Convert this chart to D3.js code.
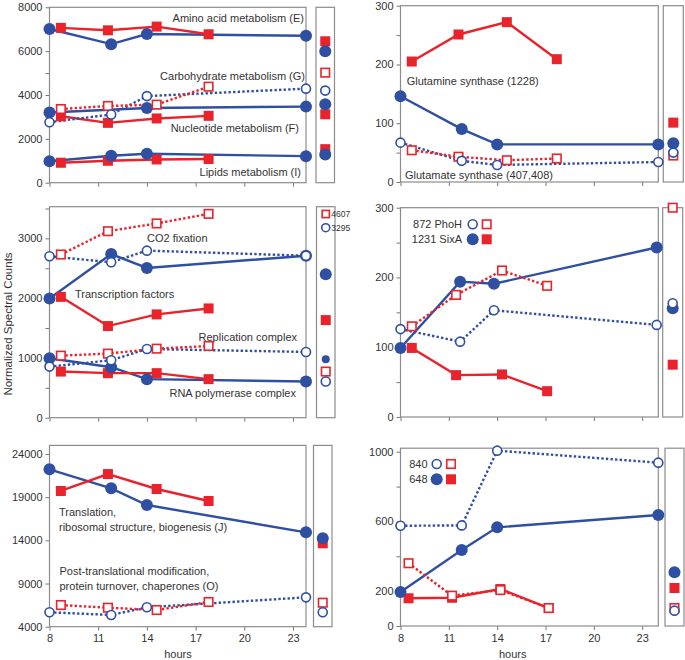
<!DOCTYPE html>
<html><head><meta charset="utf-8">
<script src="https://cdn.jsdelivr.net/npm/d3@7"></script>
<style>body{margin:0;background:#fff} text{font-family:"Liberation Sans",Arial,sans-serif}</style>
</head><body><svg id="c" width="685" height="660"></svg>
<script>
// ---------- DATA ----------
const hourTicks = [8, 11, 14, 17, 20, 23];
const leftBlueT = [8, 11.8, 14, 23.8];
const leftRedT = [8.7, 11.6, 14.6, 17.8];
const glutBlueT = [8, 11.8, 14, 24];
const glutRedT = [8.7, 11.6, 14.6, 17.7];
const phoBlueT = [8, 11.7, 13.8, 23.9];
const phoRedT = [8.7, 11.45, 14.3, 17.1];
const p840BlueT = [8, 11.8, 14, 24];
const p840RedT = [8.5, 11.2, 14.2, 17.2];

// top-left: metabolism
const aminoBlue = [7010, 6320, 6780, 6700];
const aminoRed = [7060, 6950, 7120, 6770];
const carbBlue = [2760, 3110, 3950, 4290];
const carbRed = [3360, 3500, 3560, 4380];
const nucBlue = [3200, null, 3410, 3470];
const nucRed = [3030, 2730, 2930, 3050];
const lipBlue = [980, 1230, 1320, 1210];
const lipRed = [910, 1000, 1060, 1080];
const tlSide = {redFilled: [6450, 3120, 1530], blueFilled: [6000, 3580, 1290], redOpen: [5020], blueOpen: [4200]};

// middle-left
const co2Red = [2730, 3120, 3250, 3410];
const co2Blue = [2700, 2600, 2795, 2710];
const tfBlue = [1995, 2738, 2506, 2710];
const tfRed = [2022, 1533, 1728, 1828];
const repRed = [1038, 1072, 1155, 1200];
const repBlue = [855, 961, 1150, 1100];
const rnapBlue = [995, 845, 645, 605];
const rnapRed = [772, 745, 745, 645];
const mlSide = {redFilled: [1633], blueFilled: [2400], blueSmall: [978], redOpen: [772], blueOpen: [605]};
const mlSideLegend = ["4607", "3295"];

// bottom-left
const transBlue = [22230, 20030, 18090, 14930];
const transRed = [19720, 21680, 19950, 18560];
const ptmRed = [6510, 6200, 5930, 6860];
const ptmBlue = [5670, 5360, 6250, 7400];
const blSide = {redFilled: [13660], blueFilled: [14240], redOpen: [6780], blueOpen: [5670]};

// top-right
const glnRed = [205, 251, 272, 209];
const glnBlue = [146, 90, 64, 64];
const gltBlue = [67, 36, 29, 34];
const gltRed = [54, 43, 37, 40];
const trSide = {redFilled: [101], blueFilled: [66], redOpen: [45], blueOpen: [50]};

// middle-right
const phoHBlue = [126, 108, 153, 132];
const phoHRed = [130, 175, 210, 188];
const sixABlue = [99, 194, 191, 243];
const sixARed = [99, 60, 61, 37];
const mrSide = {redFilled: [75], blueFilled: [156], redOpen: [300], blueOpen: [163]};

// bottom-right
const g840Blue = [575, 577, 1006, 937];
const g840Red = [360, 174, 206, 103];
const g648Blue = [195, 436, 566, 637];
const g648Red = [159, 162, 212, 103];
const brSide = {redFilled: [218], blueFilled: [308], redOpen: [103], blueOpen: [88]};

// ---------- DRAWING ----------
const BLUE = "#2f4fa2", RED = "#e8232b", FRAME = "#8c8c8c", TXT = "#333";
const svg = d3.select("#c");

function S(t, v, color, style) { return {t, v, color, style}; }

function marker(g, cx, cy, color, kind, r) {
  const c = color === "blue" ? BLUE : RED;
  if (color === "blue") {
    const rr = r || (kind === "filled" ? 6 : 4.5);
    g.append("circle").attr("cx", cx).attr("cy", cy).attr("r", rr)
      .attr("fill", kind === "filled" ? c : "#fff")
      .attr("stroke", c).attr("stroke-width", kind === "filled" ? 0 : 1.6);
  } else {
    const s = r ? r * 2 : (kind === "filled" ? 10 : 8.5);
    g.append("rect").attr("x", cx - s / 2).attr("y", cy - s / 2).attr("width", s).attr("height", s)
      .attr("fill", kind === "filled" ? c : "#fff")
      .attr("stroke", c).attr("stroke-width", kind === "filled" ? 0 : 1.6);
  }
}

function drawPanel(p) {
  const x = d3.scaleLinear().domain(p.xDomain).range(p.xRange);
  const y = d3.scaleLinear().domain(p.yDomain).range(p.yRange);
  const g = svg.append("g");
  // y axis
  const ya = d3.axisLeft(y).tickValues(p.yTicks).tickSize(4).tickPadding(3)
    .tickFormat(d => p.yLabels.includes(d) ? String(d) : "");
  const yg = g.append("g").attr("transform", `translate(${p.xRange[0]},0)`).call(ya);
  // x axis
  const xa = d3.axisBottom(x).tickValues(hourTicks).tickSize(4).tickPadding(4)
    .tickFormat(d => p.xLabels ? String(d) : "");
  const xg = g.append("g").attr("transform", `translate(0,${p.yRange[0]})`).call(xa);
  [yg, xg].forEach(a => {
    a.select(".domain").remove();
    a.selectAll(".tick line").attr("stroke", "#777");
    a.selectAll(".tick text").attr("fill", TXT).style("font-size", "11px")
      .style("font-family", '"Liberation Sans",Arial,sans-serif');
  });
  // frame
  g.append("rect").attr("x", p.xRange[0]).attr("y", p.yRange[1])
    .attr("width", p.xRange[1] - p.xRange[0]).attr("height", p.yRange[0] - p.yRange[1])
    .attr("fill", "none").attr("stroke", FRAME).attr("stroke-width", 1.2);
  // side box
  const sb = p.side;
  g.append("rect").attr("x", sb.x0).attr("y", p.yRange[1])
    .attr("width", sb.x1 - sb.x0).attr("height", p.yRange[0] - p.yRange[1])
    .attr("fill", "none").attr("stroke", FRAME).attr("stroke-width", 1.2);
  // annotations
  p.labels.forEach(l => {
    g.append("text").attr("x", l.x).attr("y", l.y).attr("text-anchor", l.anchor || "start")
      .attr("fill", TXT).style("font-size", (l.size || 11) + "px").text(l.text);
  });
  // lines
  const line = d3.line().x(d => x(d.t)).y(d => y(d.v));
  const pts = s => s.t.map((t, i) => ({t, v: s.v[i]})).filter(d => d.v !== null);
  p.series.forEach(s => {
    g.append("path").attr("d", line(pts(s))).attr("fill", "none")
      .attr("stroke", s.color === "blue" ? BLUE : RED)
      .attr("stroke-width", 2.4)
      .attr("stroke-dasharray", s.style === "dotted" ? "2.4,2.2" : null);
  });
  // markers: filled first then open
  const order = [["solid", "red"], ["solid", "blue"], ["dotted", "red"], ["dotted", "blue"]];
  order.forEach(([st, col]) => {
    p.series.filter(s => s.style === st && s.color === col).forEach(s => {
      pts(s).forEach(d => marker(g, x(d.t), y(d.v), col, st === "solid" ? "filled" : "open"));
    });
  });
  // side markers
  const sx = (sb.x0 + sb.x1) / 2;
  const sv = p.sideVals;
  (sv.redFilled || []).forEach(v => marker(g, sx, y(v), "red", "filled"));
  (sv.blueFilled || []).forEach(v => marker(g, sx, y(v), "blue", "filled"));
  (sv.blueSmall || []).forEach(v => marker(g, sx, y(v), "blue", "filled", 4));
  (sv.redOpen || []).forEach(v => marker(g, sx, y(v), "red", "open"));
  (sv.blueOpen || []).forEach(v => marker(g, sx, y(v), "blue", "open"));
  if (p.extra) p.extra(g, x, y, sx);
  return {x, y};
}

const LX = [49.5, 306], RX = [400.5, 658.3];

// top-left
drawPanel({
  xDomain: [8, 23.8], xRange: LX, yDomain: [0, 8000], yRange: [182.7, 7.3],
  yTicks: d3.range(0, 8001, 1000), yLabels: [0, 2000, 4000, 6000, 8000], xLabels: false,
  side: {x0: 316, x1: 334.5}, sideVals: tlSide,
  series: [S(leftBlueT, aminoBlue, "blue", "solid"), S(leftRedT, aminoRed, "red", "solid"),
    S(leftBlueT, nucBlue, "blue", "solid"), S(leftRedT, nucRed, "red", "solid"),
    S(leftBlueT, lipBlue, "blue", "solid"), S(leftRedT, lipRed, "red", "solid"),
    S(leftBlueT, carbBlue, "blue", "dotted"), S(leftRedT, carbRed, "red", "dotted")],
  labels: [
    {text: "Amino acid metabolism (E)", x: 304, y: 22, anchor: "end"},
    {text: "Carbohydrate metabolism (G)", x: 305, y: 79.5, anchor: "end"},
    {text: "Nucleotide metabolism (F)", x: 299, y: 132, anchor: "end"},
    {text: "Lipids metabolism (I)", x: 301, y: 176, anchor: "end"}]
});

// middle-left
drawPanel({
  xDomain: [8, 23.8], xRange: LX, yDomain: [0, 3530], yRange: [417.7, 206.7],
  yTicks: d3.range(0, 3501, 500), yLabels: [0, 1000, 2000, 3000], xLabels: false,
  side: {x0: 316.5, x1: 335}, sideVals: mlSide,
  series: [S(leftBlueT, tfBlue, "blue", "solid"), S(leftRedT, tfRed, "red", "solid"),
    S(leftBlueT, rnapBlue, "blue", "solid"), S(leftRedT, rnapRed, "red", "solid"),
    S(leftBlueT, co2Blue, "blue", "dotted"), S(leftRedT, co2Red, "red", "dotted"),
    S(leftBlueT, repBlue, "blue", "dotted"), S(leftRedT, repRed, "red", "dotted")],
  labels: [
    {text: "CO2 fixation", x: 147, y: 242},
    {text: "Transcription factors", x: 75, y: 298},
    {text: "Replication complex", x: 297, y: 340.5, anchor: "end"},
    {text: "RNA polymerase complex", x: 296, y: 397, anchor: "end"}],
  extra: (g, x, y, sx) => {
    marker(g, sx, 214, "red", "open", 3.6);
    marker(g, sx, 227.7, "blue", "open", 4);
    g.append("text").attr("x", sx + 5.5).attr("y", 217).attr("fill", TXT).style("font-size", "8.5px").text(mlSideLegend[0]);
    g.append("text").attr("x", sx + 5.5).attr("y", 230.7).attr("fill", TXT).style("font-size", "8.5px").text(mlSideLegend[1]);
  }
});

// bottom-left
drawPanel({
  xDomain: [8, 23.8], xRange: LX, yDomain: [4000, 25000], yRange: [626.7, 445.4],
  yTicks: [4000, 9000, 14000, 19000, 24000], yLabels: [4000, 9000, 14000, 19000, 24000], xLabels: true,
  side: {x0: 313.5, x1: 332}, sideVals: blSide,
  series: [S(leftBlueT, transBlue, "blue", "solid"), S(leftRedT, transRed, "red", "solid"),
    S(leftBlueT, ptmBlue, "blue", "dotted"), S(leftRedT, ptmRed, "red", "dotted")],
  labels: [
    {text: "Translation,", x: 59, y: 515.5},
    {text: "ribosomal structure, biogenesis (J)", x: 59, y: 530.5},
    {text: "Post-translational modification,", x: 59.5, y: 575},
    {text: "protein turnover, chaperones (O)", x: 59.5, y: 589.5},
    {text: "hours", x: 178, y: 657.5, anchor: "middle"}]
});

// top-right
drawPanel({
  xDomain: [8, 24], xRange: RX, yDomain: [0, 300], yRange: [182, 5.7],
  yTicks: d3.range(0, 301, 50), yLabels: [0, 100, 200, 300], xLabels: false,
  side: {x0: 663.3, x1: 683.3}, sideVals: trSide,
  series: [S(glutBlueT, glnBlue, "blue", "solid"), S(glutRedT, glnRed, "red", "solid"),
    S(glutBlueT, gltBlue, "blue", "dotted"), S(glutRedT, gltRed, "red", "dotted")],
  labels: [
    {text: "Glutamine synthase (1228)", x: 406.7, y: 84.5},
    {text: "Glutamate synthase (407,408)", x: 405, y: 179}]
});

// middle-right
drawPanel({
  xDomain: [8, 24], xRange: RX, yDomain: [0, 300], yRange: [417, 207.7],
  yTicks: d3.range(0, 301, 50), yLabels: [0, 100, 200, 300], xLabels: false,
  side: {x0: 662.7, x1: 682.7}, sideVals: mrSide,
  series: [S(phoBlueT, sixABlue, "blue", "solid"), S(phoRedT, sixARed, "red", "solid"),
    S(phoBlueT, phoHBlue, "blue", "dotted"), S(phoRedT, phoHRed, "red", "dotted")],
  labels: [
    {text: "872 PhoH", x: 462, y: 228, anchor: "end"},
    {text: "1231 SixA", x: 462, y: 243, anchor: "end"}],
  extra: (g) => {
    marker(g, 472.7, 224.3, "blue", "open");
    marker(g, 486.7, 224.3, "red", "open");
    marker(g, 472.7, 239.3, "blue", "filled");
    marker(g, 486.7, 239.3, "red", "filled");
  }
});

// bottom-right
drawPanel({
  xDomain: [8, 24], xRange: RX, yDomain: [0, 1020], yRange: [626, 448.2],
  yTicks: [0, 200, 400, 600, 800, 1000], yLabels: [0, 200, 600, 1000], xLabels: true,
  side: {x0: 665, x1: 684}, sideVals: brSide,
  series: [S(p840BlueT, g648Blue, "blue", "solid"), S(p840RedT, g648Red, "red", "solid"),
    S(p840BlueT, g840Blue, "blue", "dotted"), S(p840RedT, g840Red, "red", "dotted")],
  labels: [
    {text: "840", x: 427.5, y: 468, anchor: "end"},
    {text: "648", x: 427.5, y: 483.3, anchor: "end"},
    {text: "hours", x: 512.7, y: 657.5, anchor: "middle"}],
  extra: (g) => {
    marker(g, 436.7, 464, "blue", "open");
    marker(g, 451, 464, "red", "open");
    marker(g, 436.7, 479.3, "blue", "filled");
    marker(g, 451, 479.3, "red", "filled");
  }
});

// y title
svg.append("text").attr("transform", "translate(12,324) rotate(-90)").attr("text-anchor", "middle")
  .attr("fill", TXT).style("font-size", "11.5px").text("Normalized Spectral Counts");
</script></body></html>
